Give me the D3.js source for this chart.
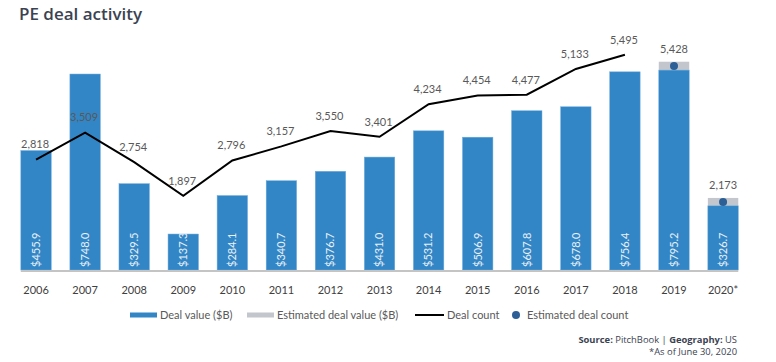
<!DOCTYPE html>
<html>
<head>
<meta charset="utf-8">
<script src="https://cdn.jsdelivr.net/npm/d3@7"></script>
<style>
  body { margin: 0; background: #fff; }
  svg { display: block; font-family: Lato, "Open Sans", sans-serif; }
</style>
</head>
<body>
<svg id="chart" width="776" height="362"></svg>
<script>
const years = ["2006", "2007", "2008", "2009", "2010", "2011", "2012", "2013", "2014", "2015", "2016", "2017", "2018", "2019", "2020*"];
// blue bar heights as drawn ($B)
const dealValue = [455.9, 748.0, 329.5, 137.3, 284.1, 340.7, 376.7, 431.0, 531.2, 506.9, 607.8, 623.0, 756.4, 763.0, 245.0];
// grey estimated part stacked on top ($B)
const estimatedValue = [0, 0, 0, 0, 0, 0, 0, 0, 0, 0, 0, 0, 0, 32.0, 30.0];
const valueLabels = ["$455.9", "$748.0", "$329.5", "$137.3", "$284.1", "$340.7", "$376.7", "$431.0", "$531.2", "$506.9", "$607.8", "$678.0", "$756.4", "$795.2", "$326.7"];
const dealCount = [2818, 3509, 2754, 1897, 2796, 3157, 3550, 3401, 4234, 4454, 4477, 5133, 5495, null, null];
const estimatedCount = [null, null, null, null, null, null, null, null, null, null, null, null, null, 5428, 2173];

const blue = "#3286c6", grey = "#c3c6cc", dotBlue = "#2c5f96", textGrey = "#595959";

const svg = d3.select("#chart");

svg.append("text")
  .attr("x", 19).attr("y", 20)
  .attr("font-family", "'Open Sans', sans-serif")
  .attr("font-weight", 600)
  .attr("font-size", 17)
  .attr("fill", "#3b4352")
  .text("PE deal activity");

const baseY = 270;

const x = d3.scaleBand()
  .domain(years)
  .range([11.5, 747.6])
  .paddingInner(0.38)
  .paddingOuter(0.19);

const y = d3.scaleLinear().domain([0, 800]).range([baseY, baseY - 209.6]);
const yCount = d3.scaleLinear().domain([0, 6000]).range([baseY, 35]);

const rows = years.map((yr, i) => ({
  year: yr, value: dealValue[i], est: estimatedValue[i], label: valueLabels[i],
  count: dealCount[i], estCount: estimatedCount[i]
}));

// estimated (grey) segments
svg.selectAll(".est")
  .data(rows.filter(d => d.est > 0))
  .enter().append("rect")
  .attr("class", "est")
  .attr("x", d => x(d.year))
  .attr("width", x.bandwidth())
  .attr("y", d => y(d.value + d.est))
  .attr("height", d => y(d.value) - y(d.value + d.est))
  .attr("fill", grey);

// deal value bars
svg.selectAll(".bar")
  .data(rows)
  .enter().append("rect")
  .attr("class", "bar")
  .attr("x", d => x(d.year))
  .attr("width", x.bandwidth())
  .attr("y", d => y(d.value))
  .attr("height", d => baseY - y(d.value))
  .attr("fill", blue)
  .attr("stroke", "#6fabdd")
  .attr("stroke-width", 0.5);

// baseline
svg.append("line")
  .attr("x1", x(years[0])).attr("x2", x(years[years.length - 1]) + x.bandwidth())
  .attr("y1", baseY + 1).attr("y2", baseY + 1)
  .attr("stroke", "#c4c4c4").attr("stroke-width", 2);

// rotated value labels
svg.selectAll(".vlabel")
  .data(rows)
  .enter().append("text")
  .attr("class", "vlabel")
  .attr("transform", d => `translate(${x(d.year) + x.bandwidth() / 2},${baseY - 3}) rotate(-90)`)
  .attr("dy", "0.35em")
  .attr("font-size", 11)
  .attr("fill", "#e9f0f8")
  .text(d => d.label);

// deal count line
const line = d3.line()
  .defined(d => d.count != null)
  .x(d => x(d.year) + x.bandwidth() / 2)
  .y(d => yCount(d.count));

svg.append("path")
  .datum(rows)
  .attr("d", line)
  .attr("fill", "none")
  .attr("stroke", "#000")
  .attr("stroke-width", 2);

const fmt = d3.format(",");

svg.selectAll(".clabel")
  .data(rows.filter(d => d.count != null))
  .enter().append("text")
  .attr("class", "clabel")
  .attr("x", d => x(d.year) + x.bandwidth() / 2 - 1)
  .attr("y", d => yCount(d.count) - 15)
  .attr("dy", "0.35em")
  .attr("text-anchor", "middle")
  .attr("font-size", 11)
  .attr("fill", textGrey)
  .text(d => fmt(d.count));

// estimated deal count dots, sitting in the grey segment
const estRows = rows.filter(d => d.estCount != null);

svg.selectAll(".edot")
  .data(estRows)
  .enter().append("circle")
  .attr("class", "edot")
  .attr("cx", d => x(d.year) + x.bandwidth() / 2)
  .attr("cy", d => y(d.value + d.est / 2))
  .attr("r", 4)
  .attr("fill", dotBlue);

svg.selectAll(".elabel")
  .data(estRows)
  .enter().append("text")
  .attr("class", "elabel")
  .attr("x", d => x(d.year) + x.bandwidth() / 2)
  .attr("y", d => y(d.value + d.est) - 13)
  .attr("dy", "0.35em")
  .attr("text-anchor", "middle")
  .attr("font-size", 11)
  .attr("fill", textGrey)
  .text(d => fmt(d.estCount));

// x axis labels
const xAxis = d3.axisBottom(x).tickSize(0).tickPadding(0);
const gx = svg.append("g")
  .attr("transform", `translate(0,${baseY + 20})`)
  .call(xAxis);
gx.select(".domain").remove();
gx.selectAll("text")
  .attr("font-family", "Lato, sans-serif")
  .attr("font-size", 11)
  .attr("fill", "#404040")
  .attr("dy", "0.35em");

// legend
const legend = svg.append("g").attr("transform", "translate(0,315)").attr("font-size", 11).attr("fill", textGrey);
legend.append("rect").attr("x", 130).attr("y", -2.5).attr("width", 27).attr("height", 5).attr("fill", blue);
legend.append("text").attr("x", 160).attr("dy", "0.35em").text("Deal value ($B)");
legend.append("rect").attr("x", 247).attr("y", -2.5).attr("width", 27).attr("height", 5).attr("fill", grey);
legend.append("text").attr("x", 277).attr("dy", "0.35em").text("Estimated deal value ($B)");
legend.append("line").attr("x1", 415).attr("x2", 444).attr("y1", 0).attr("y2", 0).attr("stroke", "#000").attr("stroke-width", 2);
legend.append("text").attr("x", 447).attr("dy", "0.35em").text("Deal count");
legend.append("circle").attr("cx", 516).attr("cy", 0).attr("r", 4).attr("fill", dotBlue);
legend.append("text").attr("x", 527).attr("dy", "0.35em").text("Estimated deal count");

// source
const src = svg.append("text")
  .attr("x", 737).attr("y", 343)
  .attr("text-anchor", "end")
  .attr("font-family", "'Open Sans', sans-serif")
  .attr("font-size", 9.4)
  .attr("fill", "#3b4352");
src.append("tspan").attr("font-weight", 700).text("Source: ");
src.append("tspan").text("PitchBook | ");
src.append("tspan").attr("font-weight", 700).text("Geography: ");
src.append("tspan").text("US");

svg.append("text")
  .attr("x", 737).attr("y", 355)
  .attr("text-anchor", "end")
  .attr("font-family", "'Open Sans', sans-serif")
  .attr("font-size", 9.4)
  .attr("fill", "#3b4352")
  .text("*As of June 30, 2020");
</script>
</body>
</html>
